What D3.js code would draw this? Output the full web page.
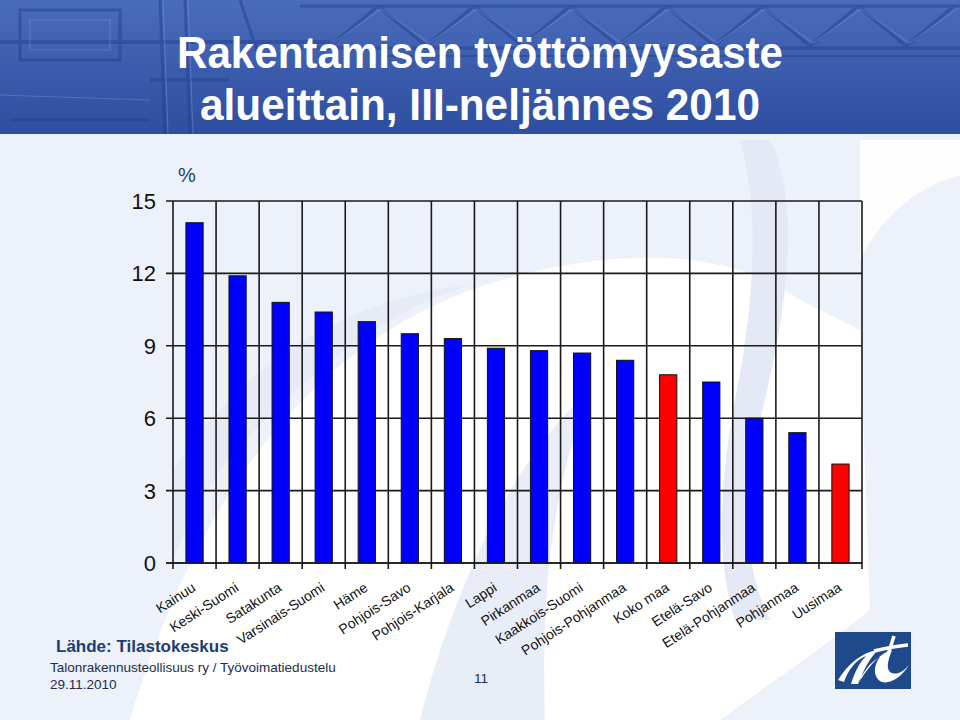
<!DOCTYPE html>
<html>
<head>
<meta charset="utf-8">
<script src="https://cdn.jsdelivr.net/npm/d3@7"></script>
<style>
  html, body { margin: 0; padding: 0; background: #edf1fa; }
  svg { display: block; }
</style>
</head>
<body>
<svg id="chart" width="960" height="720"></svg>
<script>
// ---------- data ----------
const categories = ["Kainuu", "Keski-Suomi", "Satakunta", "Varsinais-Suomi", "Häme",
  "Pohjois-Savo", "Pohjois-Karjala", "Lappi", "Pirkanmaa", "Kaakkois-Suomi",
  "Pohjois-Pohjanmaa", "Koko maa", "Etelä-Savo", "Etelä-Pohjanmaa", "Pohjanmaa", "Uusimaa"];
const values = [14.1, 11.9, 10.8, 10.4, 10.0, 9.5, 9.3, 8.9, 8.8, 8.7, 8.4, 7.8, 7.5, 6.0, 5.4, 4.1];
const highlighted = ["Koko maa", "Uusimaa"];
const yTicks = [0, 3, 6, 9, 12, 15];
const titleLines = ["Rakentamisen työttömyysaste", "alueittain, III-neljännes 2010"];

// ---------- setup ----------
const svg = d3.select("#chart");
const W = 960, H = 720;
const FONT = "'Liberation Sans', Arial, Helvetica, sans-serif";

// slide background
svg.append("rect").attr("width", W).attr("height", H).attr("fill", "#edf1fa");

// faded background swooshes (decoration)
const deco = svg.append("g");
// large white "r" swoosh
deco.append("path").attr("fill", "#ffffff")
  .attr("d", "M130,720 C190,520 300,330 520,275 C640,245 740,255 800,300 L860,330 L870,610 C820,650 760,690 720,720 Z");
// soft grey-blue band inside the white swoosh
deco.append("path").attr("fill", "#e6ebf6")
  .attr("d", "M173,470 C230,380 330,300 470,285 C400,305 300,370 220,470 C200,500 185,530 173,560 Z");
deco.append("path").attr("fill", "#e9edf7")
  .attr("d", "M420,720 C450,600 510,460 590,390 C560,470 540,560 545,720 Z");
// "t" stem band on the right
deco.append("path").attr("fill", "#e4e9f5")
  .attr("d", "M770,140 C800,200 790,300 760,420 C740,500 745,570 770,620 L735,620 C715,560 720,480 735,400 C755,300 760,210 740,140 Z");
// upper right white arc
deco.append("path").attr("fill", "#ffffff").attr("opacity", 0.9)
  .attr("d", "M860,140 L960,140 L960,175 C910,190 880,220 860,260 Z");

// header band
const defs = svg.append("defs");
const grad = defs.append("linearGradient").attr("id", "hdr").attr("x1", 0).attr("y1", 0).attr("x2", 0).attr("y2", 1);
grad.append("stop").attr("offset", "0%").attr("stop-color", "#4a6dbb");
grad.append("stop").attr("offset", "55%").attr("stop-color", "#3a5bab");
grad.append("stop").attr("offset", "100%").attr("stop-color", "#2e4e9f");
svg.append("rect").attr("x", 0).attr("y", 0).attr("width", W).attr("height", 134).attr("fill", "url(#hdr)");

// truss decoration in header
const truss = svg.append("g").attr("fill", "none").attr("stroke", "#24408e").attr("stroke-width", 3).attr("opacity", 0.5);
const trussX = d3.range(330, 980, 48);
truss.append("path").attr("d", d3.line()(trussX.map((x, i) => [x, i % 2 ? 6 : 46])));
truss.append("line").attr("x1", 300).attr("x2", 960).attr("y1", 48).attr("y2", 48);
truss.append("line").attr("x1", 300).attr("x2", 960).attr("y1", 6).attr("y2", 6);
truss.append("line").attr("x1", 380).attr("x2", 960).attr("y1", 56).attr("y2", 56).attr("stroke-width", 2);
truss.append("line").attr("x1", 0).attr("x2", 330).attr("y1", 42).attr("y2", 42).attr("stroke-width", 4);
truss.append("path").attr("d", "M160,0 L165,134 M185,0 L190,134 M150,80 L230,80 M10,120 L150,120 M240,0 L260,60 M20,10 L120,10 L120,60 L20,60 Z");
const truss2 = svg.append("g").attr("fill", "none").attr("stroke", "#7e9ad8").attr("stroke-width", 1.2).attr("opacity", 0.4);
truss2.append("path").attr("d", d3.line()(trussX.map((x, i) => [x + 3, i % 2 ? 9 : 43])));
truss2.append("path").attr("d", "M163,0 L168,134 M188,0 L193,134 M30,20 L110,20 L110,50 L30,50 Z M0,95 L150,100");

// title
const title = svg.append("g").attr("fill", "#ffffff")
  .style("font-family", "'Liberation Sans Narrow', 'Arial Narrow', " + FONT)
  .style("font-weight", "bold").style("font-size", "45px");
title.append("text").attr("x", 480).attr("y", 68).attr("text-anchor", "middle")
  .attr("textLength", 606).attr("lengthAdjust", "spacingAndGlyphs").text(titleLines[0]);
title.append("text").attr("x", 480).attr("y", 120).attr("text-anchor", "middle")
  .attr("textLength", 560).attr("lengthAdjust", "spacingAndGlyphs").text(titleLines[1]);

// ---------- chart ----------
const x = d3.scaleBand().domain(categories).range([173, 862]).paddingInner(0).paddingOuter(0);
const y = d3.scaleLinear().domain([0, 15]).range([563, 201]);

const grid = svg.append("g").attr("stroke", "#1a1a1a").attr("stroke-width", 1.6);
grid.selectAll("line.h").data(yTicks).join("line").attr("class", "h")
  .attr("x1", 166).attr("x2", 862)
  .attr("y1", d => y(d)).attr("y2", d => y(d));
const bounds = categories.map(c => x(c)).concat([x.range()[1]]);
grid.selectAll("line.v").data(bounds).join("line").attr("class", "v")
  .attr("x1", d => d).attr("x2", d => d)
  .attr("y1", y(15)).attr("y2", y(0) + 6);

// y tick labels
svg.append("g").selectAll("text").data(yTicks).join("text")
  .attr("x", 156).attr("y", d => y(d)).attr("dy", "0.36em")
  .attr("text-anchor", "end")
  .style("font-family", FONT).style("font-size", "22px").attr("fill", "#111")
  .text(d => d);

// unit
svg.append("text").attr("x", 178).attr("y", 182)
  .style("font-family", FONT).style("font-size", "20px").attr("fill", "#1f3d78")
  .text("%");

// bars
const bw = x.bandwidth() * 0.4;
svg.append("g").selectAll("rect").data(categories).join("rect")
  .attr("x", d => x(d) + x.bandwidth() / 2 - bw / 2)
  .attr("width", bw)
  .attr("y", (d, i) => y(values[i]))
  .attr("height", (d, i) => y(0) - y(values[i]))
  .attr("fill", d => highlighted.includes(d) ? "#ff0000" : "#0000ff")
  .attr("stroke", "#111").attr("stroke-width", 1);

svg.append("line").attr("x1", 166).attr("x2", 862).attr("y1", y(0)).attr("y2", y(0))
  .attr("stroke", "#1a1a1a").attr("stroke-width", 1.6);

// category labels
svg.append("g").selectAll("text").data(categories).join("text")
  .attr("transform", d => `translate(${x(d) + x.bandwidth() / 2 + 2},590) rotate(-33)`)
  .attr("text-anchor", "end")
  .style("font-family", FONT).style("font-size", "14px").attr("fill", "#111")
  .text(d => d);

// ---------- footer ----------
svg.append("text").attr("x", 56).attr("y", 652)
  .style("font-family", FONT).style("font-size", "17px").style("font-weight", "bold")
  .attr("fill", "#1c3d73").text("Lähde: Tilastokeskus");
svg.append("text").attr("x", 50).attr("y", 672)
  .style("font-family", FONT).style("font-size", "13.5px").attr("fill", "#1b2d50")
  .text("Talonrakennusteollisuus ry / Työvoimatiedustelu");
svg.append("text").attr("x", 50).attr("y", 689)
  .style("font-family", FONT).style("font-size", "13.5px").attr("fill", "#1b2d50")
  .text("29.11.2010");
svg.append("text").attr("x", 474).attr("y", 683)
  .style("font-family", FONT).style("font-size", "13.5px").attr("fill", "#1b2d50")
  .text("11");

// logo
const logo = svg.append("g");
logo.append("rect").attr("x", 835).attr("y", 632).attr("width", 76).attr("height", 57).attr("fill", "#1e4a8c");
logo.append("path").attr("fill", "#ffffff")
  .attr("d", "M838,680 C848,664 862,652 878,650 C870,658 864,668 860,681 C870,664 882,652 892,650 C888,660 886,668 890,672 C896,676 903,672 909,665 C901,678 890,684 882,682 C873,678 873,666 880,657 C870,662 863,672 858,684 L851,684 C855,671 860,662 866,656 C856,660 848,670 844,682 Z");
logo.append("path").attr("fill", "none").attr("stroke", "#ffffff").attr("stroke-width", 3.5)
  .attr("d", "M894,636 C891,646 887,656 885,666 M874,651 C886,648 897,646 908,645");
</script>
</body>
</html>
